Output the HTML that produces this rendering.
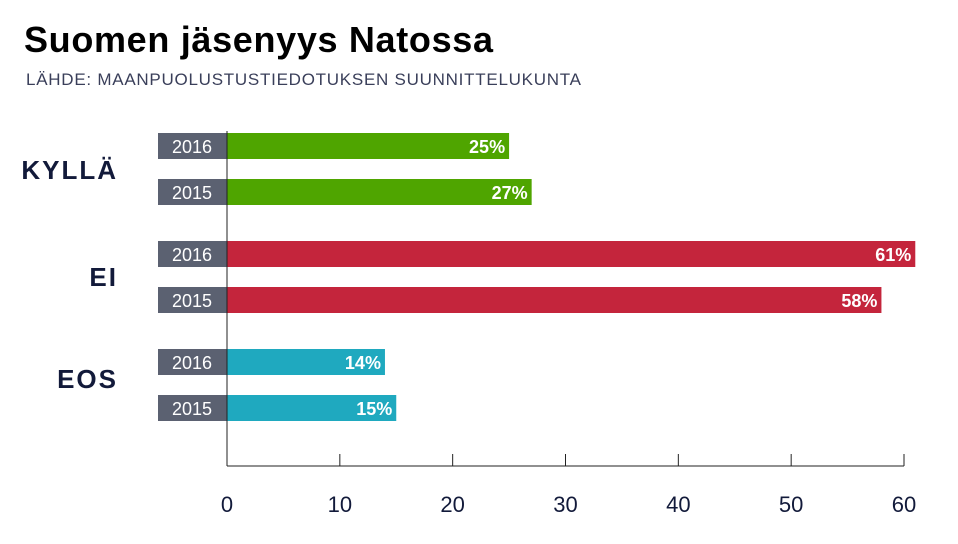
<!DOCTYPE html>
<html><head><meta charset="utf-8"><style>
body{margin:0;background:#fff;width:958px;height:539px;overflow:hidden;font-family:"Liberation Sans",sans-serif}
</style></head><body>
<svg width="958" height="539">
<text x="24" y="52" font-size="36" font-weight="bold" fill="#000" style="letter-spacing:-1px" textLength="468">Suomen jäsenyys Natossa</text>
<text x="26" y="85" font-size="17" fill="#3a3f5a" textLength="556" style="letter-spacing:1px">LÄHDE: MAANPUOLUSTUSTIEDOTUKSEN SUUNNITTELUKUNTA</text>
<g id="plot"></g>
</svg>
<script>
const groups=["KYLLÄ","EI","EOS"];
const years=["2016","2015"];
const values=[[25,27],[61,58],[14,15]];
const colors=["#4fa500","#c4253c","#1fa9bf"];
const ticks=[0,10,20,30,40,50,60];
const NS="http://www.w3.org/2000/svg";
const g=document.getElementById("plot");
const x0=227,x1=904,xmax=60;
const xs=v=>x0+(x1-x0)*v/xmax;
const labelOffsets=[46,45,39];
function mk(t,a,txt){const e=document.createElementNS(NS,t);for(const k in a)e.setAttribute(k,a[k]);if(txt!=null)e.textContent=txt;g.appendChild(e);return e;}
values.forEach((vals,gi)=>{
  const gy=133+gi*108;
  const lab=mk("text",{x:118,y:gy+labelOffsets[gi],"font-size":26,"font-weight":"bold",fill:"#121a3a","text-anchor":"end","letter-spacing":"2"},groups[gi]);
  
  
  vals.forEach((v,yi)=>{
    const y=gy+yi*46;
    const yb=mk("rect",{x:158,y:y,width:69,height:26,fill:"#5b6171"});
    
    
    const yt=mk("text",{x:192,y:y+20,"font-size":18,fill:"#fff","text-anchor":"middle"},years[yi]);
    
    
    const b=mk("rect",{x:x0,y:y,width:xs(v)-x0,height:26,fill:colors[gi]});
    
    
    const vt=mk("text",{x:xs(v)-4,y:y+20,"font-size":18,"font-weight":"bold",fill:"#fff","text-anchor":"end"},v+"%");
    
    
  });
});
const ya=mk("line",{x1:x0,y1:131,x2:x0,y2:466,stroke:"#222","stroke-width":1});


const xa=mk("line",{x1:x0,y1:466,x2:x1,y2:466,stroke:"#222","stroke-width":1});


ticks.forEach(t=>{
  const tl=mk("line",{x1:xs(t),y1:454,x2:xs(t),y2:466,stroke:"#222","stroke-width":1});
  
  
  const tt=mk("text",{x:xs(t),y:512,"font-size":22,fill:"#121a3a","text-anchor":"middle"},String(t));
  
  
});
</script>
</body></html>
